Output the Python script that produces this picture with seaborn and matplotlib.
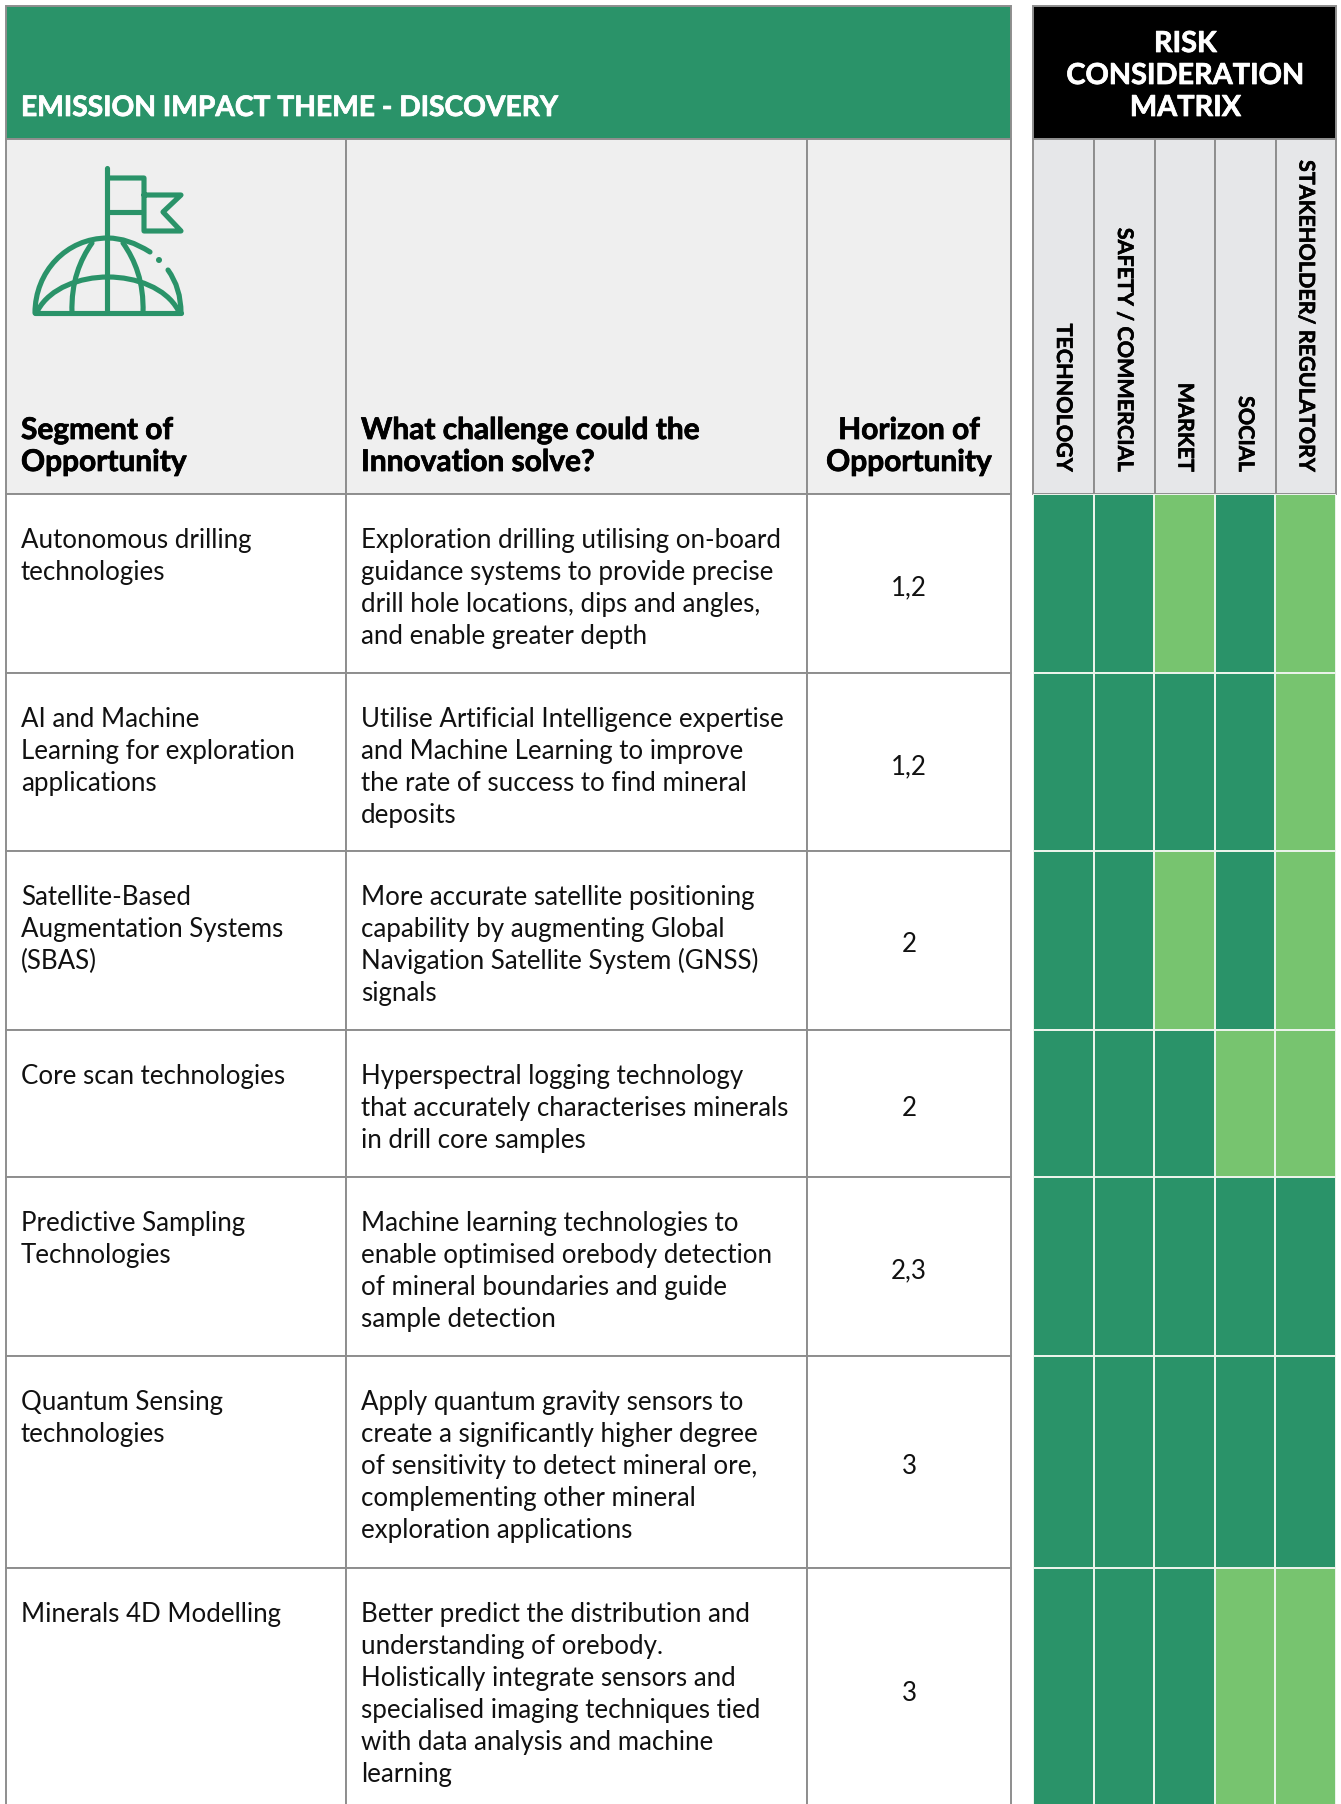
import matplotlib
matplotlib.use("Agg")
import matplotlib.pyplot as plt
import matplotlib.patheffects as pe
from matplotlib.patches import Rectangle, PathPatch, Circle
from matplotlib.path import Path
from matplotlib.colors import ListedColormap
import numpy as np
import seaborn as sns

sns.set_theme(style="white")
plt.rcParams["font.family"] = ["Lato", "DejaVu Sans"]

# ---------- data ----------
theme_title = "EMISSION IMPACT THEME - DISCOVERY"
matrix_title = ["RISK", "CONSIDERATION", "MATRIX"]
col_heads = [["Segment of", "Opportunity"],
             ["What challenge could the", "Innovation solve?"],
             ["Horizon of", "Opportunity"]]
risk_categories = ["TECHNOLOGY", "SAFETY / COMMERCIAL", "MARKET", "SOCIAL", "STAKEHOLDER/ REGULATORY"]
segments = [["Autonomous drilling", "technologies"],
            ["AI and Machine", "Learning for exploration", "applications"],
            ["Satellite-Based", "Augmentation Systems", "(SBAS)"],
            ["Core scan technologies"],
            ["Predictive Sampling", "Technologies"],
            ["Quantum Sensing", "technologies"],
            ["Minerals 4D Modelling"]]
challenges = [["Exploration drilling utilising on-board", "guidance systems to provide precise",
               "drill hole locations, dips and angles,", "and enable greater depth"],
              ["Utilise Artificial Intelligence expertise", "and Machine Learning to improve",
               "the rate of success to find mineral", "deposits"],
              ["More accurate satellite positioning", "capability by augmenting Global",
               "Navigation Satellite System (GNSS)", "signals"],
              ["Hyperspectral logging technology", "that accurately characterises minerals",
               "in drill core samples"],
              ["Machine learning technologies to", "enable optimised orebody detection",
               "of mineral boundaries and guide", "sample detection"],
              ["Apply quantum gravity sensors to", "create a significantly higher degree",
               "of sensitivity to detect mineral ore,", "complementing other mineral",
               "exploration applications"],
              ["Better predict the distribution and", "understanding of orebody.",
               "Holistically integrate sensors and", "specialised imaging techniques tied",
               "with data analysis and machine", "learning"]]
horizons = ["1,2", "1,2", "2", "2", "2,3", "3", "3"]
# 1 = darker green, 0 = lighter green
risk_matrix = [[1, 1, 0, 1, 0],
               [1, 1, 1, 1, 0],
               [1, 1, 0, 1, 0],
               [1, 1, 1, 0, 0],
               [1, 1, 1, 1, 1],
               [1, 1, 1, 1, 1],
               [1, 1, 1, 0, 0]]

# ---------- layout (pixels) ----------
W, H = 1341, 1804
GREEN, LIGHT = "#2A9369", "#77C46F"
GRID = "#8E8E8E"
col_x = [6, 346, 807, 1011]
mat_x = [1033, 1094, 1155, 1215, 1276, 1336]
row_y = [494, 673, 851, 1030, 1177, 1356, 1568, 1810]
head_y = [6, 139, 494]
BODY, HEAD, TITLE, MTITLE, VERT = 18.6, 21.5, 20.3, 20.8, 15.5

fig = plt.figure(figsize=(W / 100, H / 100), dpi=100, facecolor="white")
ax = fig.add_axes([0, 0, 1, 1])
ax.set_xlim(0, W)
ax.set_ylim(H, 0)
ax.axis("off")


def heavy(color, w=0.55):
    return [pe.withStroke(linewidth=w, foreground=color)]


def rect(x0, y0, x1, y1, fc, ec=GRID, lw=1.4, z=1):
    ax.add_patch(Rectangle((x0, y0), x1 - x0, y1 - y0, fc=fc, ec=ec, lw=lw, zorder=z, clip_on=False))


# left table
rect(col_x[0], head_y[0], col_x[3], head_y[1], GREEN)
for i in range(3):
    rect(col_x[i], head_y[1], col_x[i + 1], head_y[2], "#EFEFEF")
    for j in range(7):
        rect(col_x[i], row_y[j], col_x[i + 1], row_y[j + 1], "white")
ax.text(21, 116, theme_title, color="white", fontsize=TITLE, fontweight="bold", va="baseline",
        path_effects=heavy("white"))

# header labels
for i, lines in enumerate(col_heads):
    for k, s in enumerate(lines):
        if i == 2:
            ax.text((col_x[2] + col_x[3]) / 2, 439 + 32 * k, s, fontsize=HEAD, fontweight="bold",
                    color="black", ha="center", va="baseline", path_effects=heavy("black"))
        else:
            ax.text(col_x[i] + 15, 439 + 32 * k, s, fontsize=HEAD, fontweight="bold",
                    color="black", va="baseline", path_effects=heavy("black"))

# body text
for j in range(7):
    for k, s in enumerate(segments[j]):
        ax.text(col_x[0] + 15, row_y[j] + 54 + 32 * k, s, fontsize=BODY, color="#111111", va="baseline")
    for k, s in enumerate(challenges[j]):
        ax.text(col_x[1] + 15, row_y[j] + 54 + 32 * k, s, fontsize=BODY, color="#111111", va="baseline")
    ax.text((col_x[2] + col_x[3]) / 2, (row_y[j] + row_y[j + 1]) / 2 + 2, horizons[j], fontsize=BODY,
            color="#111111", ha="center", va="center_baseline")

# icon
icon_style = dict(fc="none", ec=GREEN, lw=3.7, capstyle="round", joinstyle="round", zorder=3)
M, L, C3, C4 = Path.MOVETO, Path.LINETO, Path.CURVE3, Path.CURVE4
icon_paths = [
    ([(107.5, 168), (107.5, 312)], [M, L]),
    ([(108, 178), (144, 178), (144, 231), (181, 231), (163, 212), (181, 195), (144, 195)], [M, L, L, L, L, L, L]),
    ([(108, 212), (143, 212)], [M, L]),
    ([(35, 313), (181, 313)], [M, L]),
    ([(35, 313), (35, 272), (66, 238), (108, 238), (128, 238), (150, 252)], [M, C4, C4, C4, C3, C3]),
    ([(168, 270), (181, 288), (181, 313)], [M, C3, C3]),
    ([(38, 310), (50, 288), (80, 277), (108, 277), (136, 277), (166, 288), (178, 310)],
     [M, C4, C4, C4, C4, C4, C4]),
    ([(72, 313), (71, 282), (80, 260), (92, 243)], [M, C4, C4, C4]),
    ([(143, 313), (144, 282), (135, 260), (123, 243)], [M, C4, C4, C4]),
]
for v, c in icon_paths:
    ax.add_patch(PathPatch(Path(v, c), **icon_style))
ax.add_patch(Circle((159, 260), 3, fc=GREEN, ec="none", zorder=3))

# matrix header
rect(mat_x[0], head_y[0], mat_x[5], head_y[1], "black")
for k, s in enumerate(matrix_title):
    ax.text((mat_x[0] + mat_x[5]) / 2 + 1, 52 + 32 * k, s, color="white", fontsize=MTITLE, fontweight="bold",
            ha="center", va="baseline", path_effects=heavy("white"))
for i, s in enumerate(risk_categories):
    rect(mat_x[i], head_y[1], mat_x[i + 1], head_y[2], "#E6E7E9")
    ax.text((mat_x[i] + mat_x[i + 1]) / 2, 472, s, rotation=-90, fontsize=VERT, fontweight="bold",
            color="black", ha="center", va="bottom", path_effects=heavy("black", 0.4))

# risk matrix heatmap, one row strip per table row (rows differ in height)
cmap = ListedColormap([LIGHT, GREEN])
for j, vals in enumerate(risk_matrix):
    a = fig.add_axes([mat_x[0] / W, 1 - row_y[j + 1] / H, (mat_x[5] - mat_x[0]) / W, (row_y[j + 1] - row_y[j]) / H])
    sns.heatmap(np.array([vals]), ax=a, cmap=cmap, vmin=0, vmax=1, cbar=False,
                linewidths=1.1, linecolor="#EAF3EA", xticklabels=False, yticklabels=False, square=False)
    a.set_xlabel("")
    a.set_ylabel("")

fig.savefig("out.png", dpi=100, facecolor="white")
